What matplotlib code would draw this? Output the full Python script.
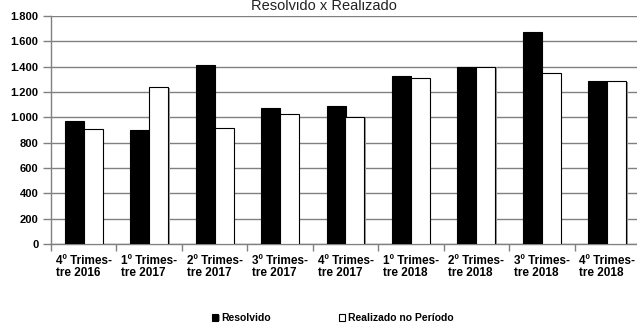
import matplotlib
matplotlib.use("Agg")
import matplotlib.pyplot as plt
import matplotlib.patheffects as pe
import numpy as np

categories = ["4º Trimes-\ntre 2016", "1º Trimes-\ntre 2017", "2º Trimes-\ntre 2017",
              "3º Trimes-\ntre 2017", "4º Trimes-\ntre 2017", "1º Trimes-\ntre 2018",
              "2º Trimes-\ntre 2018", "3º Trimes-\ntre 2018", "4º Trimes-\ntre 2018"]
resolvido = [970, 900, 1415, 1075, 1090, 1325, 1400, 1670, 1285]
realizado = [910, 1240, 915, 1025, 1000, 1310, 1400, 1350, 1285]
yticks = [0, 200, 400, 600, 800, 1000, 1200, 1400, 1600, 1800]
ytick_labels = ["0", "200", "400", "600", "800", "1.000", "1.200", "1.400", "1.600", "1.800"]

plt.rcParams['font.family'] = ['Liberation Sans', 'DejaVu Sans']

fig = plt.figure(figsize=(6.37, 3.25), dpi=100)
ax = fig.add_axes([51/637, 1-244/325, (640-51)/637, (244-16)/325])

x = np.arange(len(categories))
w = 0.29
shadow = [pe.SimplePatchShadow(offset=(1.0, -0.6), shadow_rgbFace='#9a9a9a', alpha=1.0), pe.Normal()]
b1 = ax.bar(x - w/2, resolvido, width=w, color='black', edgecolor='black', linewidth=0.8,
            label='Resolvido', zorder=3)
b2 = ax.bar(x + w/2, realizado, width=w, color='white', edgecolor='black', linewidth=0.8,
            label='Realizado no Período', zorder=3)
for p in list(b1) + list(b2):
    p.set_path_effects(shadow)

ax.set_xlim(-0.5, len(categories) - 0.5)
ax.set_ylim(0, 1800)
ax.set_yticks(yticks)
ax.set_yticklabels(ytick_labels, fontsize=8, fontweight='bold')
ax.set_xticks(x)
ax.set_xticklabels(categories, fontsize=8.5, fontweight='bold', multialignment='left', linespacing=1.0)
ax.set_xticks(np.arange(-0.5, len(categories)), minor=True)
ax.tick_params(axis='x', which='major', length=0, pad=8)
ax.tick_params(axis='x', which='minor', length=5, color='#808080', width=1)
ax.tick_params(axis='y', length=6, color='#808080', width=1, pad=3)

ax.yaxis.grid(True, color='#808080', linewidth=1)
ax.set_axisbelow(True)
for s in ['top', 'right']:
    ax.spines[s].set_visible(False)
for s in ['left', 'bottom']:
    ax.spines[s].set_color('#808080')
    ax.spines[s].set_linewidth(1)

fig.text(324/637, 1-6.5/325, "Resolvido x Realizado", ha='center', va='center', fontsize=10.5, color='#222222')

leg = fig.legend(handles=[b1, b2], loc='center', bbox_to_anchor=(333/637, 1-318/325), ncol=2,
                 frameon=False, handlelength=0.6, handleheight=0.6,
                 handletextpad=0.3, columnspacing=6.5, prop={'weight': 'bold', 'size': 7.5})

fig.savefig("out.png", dpi=100)
